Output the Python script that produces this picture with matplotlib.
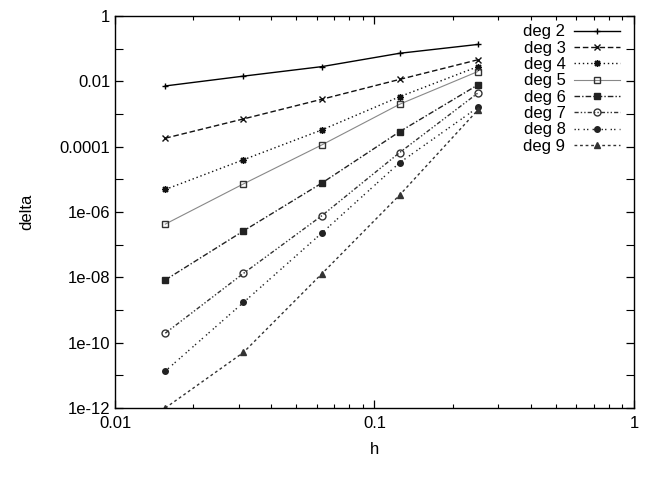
import numpy as np
import matplotlib
matplotlib.use("Agg")
import matplotlib.pyplot as plt
from matplotlib import rcParams
from matplotlib.ticker import FixedLocator, NullFormatter

rcParams['font.family'] = ['Liberation Sans', 'DejaVu Sans']
rcParams['font.size'] = 12

# mesh size
h = [1/64, 1/32, 1/16, 1/8, 1/4]

# log10(delta) per degree
deg2 = [-2.14, -1.84, -1.55, -1.14, -0.87]
deg3 = [-3.74, -3.15, -2.55, -1.94, -1.34]
deg4 = [-5.31, -4.40, -3.49, -2.47, -1.55]
deg5 = [-6.37, -5.14, -3.95, -2.70, -1.70]
deg6 = [-8.08, -6.58, -5.12, -3.54, -2.11]
deg7 = [-9.71, -7.88, -6.12, -4.18, -2.36]
deg8 = [-10.87, -8.77, -6.65, -4.49, -2.80]
deg9 = [-12.0, -10.30, -7.90, -5.48, -2.88]

series = [deg2, deg3, deg4, deg5, deg6, deg7, deg8, deg9]
labels = ["deg 2", "deg 3", "deg 4", "deg 5", "deg 6", "deg 7", "deg 8", "deg 9"]

ytick_vals = [1e-12, 1e-10, 1e-08, 1e-06, 1e-04, 1e-02, 1]
ytick_labels = ["1e-12", "1e-10", "1e-08", "1e-06", "0.0001", "0.01", "1"]
xtick_vals = [0.01, 0.1, 1]
xtick_labels = ["0.01", "0.1", "1"]

styles = [
    dict(ls="-", marker="+", color="#000000", mfc="none", ms=5),
    dict(ls=(0, (4, 2)), marker="x", color="#111111", mfc="none", ms=4),
    dict(ls=(0, (1, 2)), marker=(8, 2, 0), color="#111111", mfc="none", ms=5),
    dict(ls="-", marker="s", color="#888888", mfc="none", mec="#333333", ms=5, lw=0.8),
    dict(ls=(0, (4, 1.5, 1, 1.5)), marker="s", color="#222222", ms=4),
    dict(ls=(0, (3, 1.5, 1, 1.5, 1, 1.5)), marker="o", color="#333333", mfc="none", ms=5),
    dict(ls=(0, (1, 1.5, 1, 3)), marker="o", color="#222222", ms=4),
    dict(ls=(0, (2, 2)), marker="^", color="#333333", ms=5),
]

fig = plt.figure(figsize=(6.64, 4.86), dpi=100)
ax = fig.add_axes([0.1732, 0.1605, 0.7816, 0.8065])

for vals, lab, st in zip(series, labels, styles):
    st = dict(st)
    lw = st.pop("lw", 1.0)
    ax.plot(h, 10.0 ** np.array(vals), label=lab, lw=lw, **st)

ax.set_xscale("log")
ax.set_yscale("log")
ax.set_xlim(0.01, 1)
ax.set_ylim(1e-12, 1)

ax.yaxis.set_major_locator(FixedLocator(ytick_vals))
ax.set_yticklabels(ytick_labels)
ax.yaxis.set_minor_locator(FixedLocator([10.0 ** k for k in range(-11, 0, 2)]))
ax.yaxis.set_minor_formatter(NullFormatter())
ax.xaxis.set_major_locator(FixedLocator(xtick_vals))
ax.set_xticklabels(xtick_labels)
xminor = [m * 10.0 ** k for k in (-2, -1) for m in range(2, 10)]
ax.xaxis.set_minor_locator(FixedLocator(xminor))
ax.xaxis.set_minor_formatter(NullFormatter())

ax.tick_params(which="both", direction="in", top=True, right=True, color="black")
ax.tick_params(which="major", length=6, width=0.9)
ax.tick_params(which="minor", length=3, width=0.8)
ax.tick_params(axis="y", which="minor", length=6)
ax.tick_params(axis="x", pad=6)
for s in ax.spines.values():
    s.set_linewidth(1.0)

ax.set_xlabel("h", labelpad=8)
ax.set_ylabel("delta", labelpad=18)

ax.legend(loc="upper right", frameon=False, markerfirst=False, handlelength=2.8,
          labelspacing=0.08, borderaxespad=0.1, handletextpad=0.5,
          bbox_to_anchor=(0.99, 1.0))

plt.savefig("out.png", dpi=100)
